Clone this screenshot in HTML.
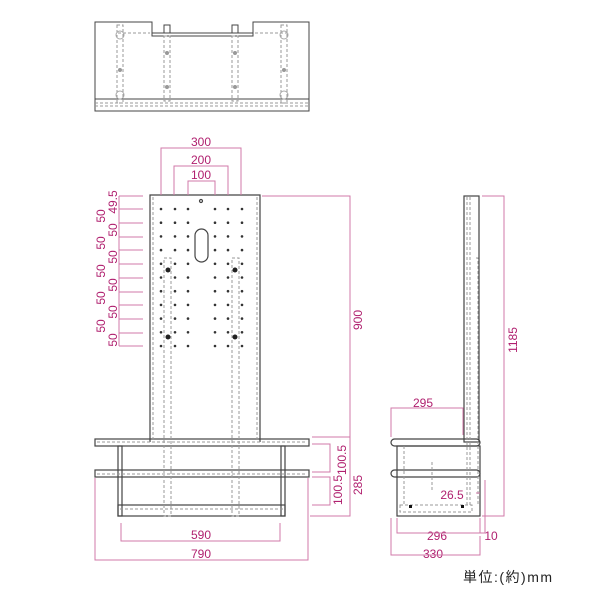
<!DOCTYPE html>
<html><head><meta charset="utf-8"><style>html,body{margin:0;padding:0;background:#fff}svg{display:block}</style></head><body>
<svg width="600" height="600" viewBox="0 0 600 600" xmlns="http://www.w3.org/2000/svg" font-family="Liberation Sans, sans-serif">
<!-- TOP VIEW -->
<g stroke="#444" fill="none" stroke-width="1">
<path d="M95,22 H152 V36 H253 V22 H309 V111 H95 Z"/>
<line x1="152" y1="33" x2="253" y2="33"/>
<line x1="95" y1="99" x2="309" y2="99"/>
<rect x="164" y="25" width="6" height="8"/><rect x="232" y="25" width="6" height="8"/>
</g>
<g stroke="#999" fill="none" stroke-width="1" stroke-dasharray="3,2">
<line x1="95" y1="103" x2="309" y2="103"/><line x1="95" y1="106" x2="309" y2="106"/>
<line x1="118" y1="33" x2="150" y2="33"/><line x1="255" y1="33" x2="287" y2="33"/>
<rect x="117" y="25" width="6" height="78"/><rect x="281" y="25" width="6" height="78"/>
<rect x="164" y="36" width="6" height="65"/><rect x="232" y="36" width="6" height="65"/>
</g>
<g fill="#999"><circle cx="120" cy="70" r="2"/><circle cx="284" cy="70" r="2"/><circle cx="167" cy="53" r="2"/><circle cx="167" cy="87" r="2"/><circle cx="235" cy="53" r="2"/><circle cx="235" cy="87" r="2"/></g>
<g stroke="#aaa" fill="none"><circle cx="120" cy="35" r="4"/><circle cx="284" cy="35" r="4"/><circle cx="120" cy="95" r="4"/><circle cx="284" cy="95" r="4"/></g>

<!-- FRONT VIEW -->
<g stroke="#444" fill="none" stroke-width="1.2">
<path d="M150,442 V195 H260 V442"/>
<rect x="95" y="439" width="214" height="7"/>
<rect x="95" y="470" width="214" height="7"/>
<rect x="118" y="446" width="4" height="70"/><rect x="281" y="446" width="4" height="70"/>
<rect x="118" y="505" width="167" height="11"/>
<circle cx="201" cy="201" r="1.5"/>
<rect x="195" y="229" width="13" height="33" rx="6.5"/>
</g>
<g stroke="#999" fill="none" stroke-width="1" stroke-dasharray="3,2">
<line x1="153" y1="197" x2="153" y2="440"/><line x1="257" y1="197" x2="257" y2="440"/>
<rect x="164" y="258" width="7" height="258"/><rect x="232" y="258" width="7" height="258"/>
<line x1="97" y1="442" x2="307" y2="442"/><line x1="97" y1="474" x2="307" y2="474"/>
<line x1="120" y1="509" x2="283" y2="509"/>
</g>
<g id="grid" fill="#333"></g>
<script>
(function(){var g=document.getElementById('grid');var xs=[161,175,188,215,228,242];for(var r=0;r<11;r++){var y=209+r*13.7;for(var i=0;i<6;i++){var c=document.createElementNS('http://www.w3.org/2000/svg','circle');c.setAttribute('cx',xs[i]);c.setAttribute('cy',y);c.setAttribute('r',1.3);g.appendChild(c);}}})();
</script>
<g fill="#222"><circle cx="168" cy="270" r="2.5"/><circle cx="235" cy="270" r="2.5"/><circle cx="168" cy="337" r="2.5"/><circle cx="235" cy="337" r="2.5"/></g>

<!-- front dims -->
<g stroke="#d07aa8" fill="none" stroke-width="1">
<path d="M161,195 V148 H241 V195"/><path d="M174,195 V166 H228 V195"/><path d="M188,195 V181 H215 V195"/>
<line x1="119" y1="196" x2="119" y2="346"/>
<path d="M262,196 H350 V516 H310"/>
<path d="M312,444 H330 V472 H312"/><path d="M312,477 H330 V505 H312"/>
<line x1="312" y1="437" x2="350" y2="437"/>
<path d="M121,523 V541 H280 V523"/>
<path d="M95,478 V560 H308 V478"/>
</g>
<g id="ticks" stroke="#d07aa8"></g>
<script>
(function(){var g=document.getElementById('ticks');var ys=[196,209,223,237,250,264,278,292,305,319,333,346];ys.forEach(function(y){var l=document.createElementNS('http://www.w3.org/2000/svg','line');l.setAttribute('x1',119);l.setAttribute('x2',143);l.setAttribute('y1',y);l.setAttribute('y2',y);g.appendChild(l);});})();
</script>
<g fill="#b0206f" font-size="12" text-anchor="middle">
<text x="201" y="146">300</text><text x="201" y="164">200</text><text x="201" y="179">100</text>
<text x="201" y="539">590</text><text x="201" y="558">790</text>
<text transform="translate(117,202) rotate(-90)">49.5</text>
<text transform="translate(105,216) rotate(-90)">50</text><text transform="translate(117,230) rotate(-90)">50</text>
<text transform="translate(105,243) rotate(-90)">50</text><text transform="translate(117,257) rotate(-90)">50</text>
<text transform="translate(105,271) rotate(-90)">50</text><text transform="translate(117,285) rotate(-90)">50</text>
<text transform="translate(105,298) rotate(-90)">50</text><text transform="translate(117,312) rotate(-90)">50</text>
<text transform="translate(105,326) rotate(-90)">50</text><text transform="translate(117,340) rotate(-90)">50</text>
<text transform="translate(362,320) rotate(-90)">900</text>
<text transform="translate(346,460) rotate(-90)">100.5</text>
<text transform="translate(342,490) rotate(-90)">100.5</text>
<text transform="translate(362,485) rotate(-90)">285</text>
<text transform="translate(517,340) rotate(-90)">1185</text>
<text x="423" y="407">295</text><text x="452" y="499">26.5</text>
<text x="437" y="540">296</text><text x="491" y="540">10</text><text x="433" y="558">330</text>
</g>

<!-- SIDE VIEW -->
<g stroke="#444" fill="none" stroke-width="1.2">
<rect x="464" y="196" width="15" height="246"/>
<rect x="397" y="446" width="83" height="70"/>
<rect x="391" y="439" width="89" height="7" rx="3.5"/>
<rect x="391" y="470" width="89" height="7" rx="3.5"/>
</g>
<g stroke="#999" fill="none" stroke-dasharray="3,2">
<line x1="467" y1="197" x2="467" y2="505"/><line x1="470" y1="197" x2="470" y2="505"/>
<path d="M476,258 H478 V505"/>
<rect x="400" y="505" width="72" height="7"/>
<line x1="404" y1="446" x2="404" y2="505"/>
<line x1="432" y1="462" x2="432" y2="490"/>
</g>
<g fill="#111"><rect x="409" y="505" width="3" height="3"/><rect x="461" y="505" width="3" height="3"/></g>
<g stroke="#d07aa8" fill="none">
<path d="M482,196 H504 V516 H482"/>
<path d="M391,437 V408 H463 V435"/>
<line x1="476" y1="493" x2="480" y2="493"/>
<path d="M397,518 V533 H480"/><path d="M480,518 V533 H485"/>
<path d="M485,480 V533"/>
<path d="M391,518 V555 H480 V536"/>
</g>
<text x="463" y="582" font-size="14" letter-spacing="1.5" fill="#222" font-family="Liberation Sans, Noto Sans CJK JP, sans-serif">単位:(約)mm</text>
</svg>
</body></html>
